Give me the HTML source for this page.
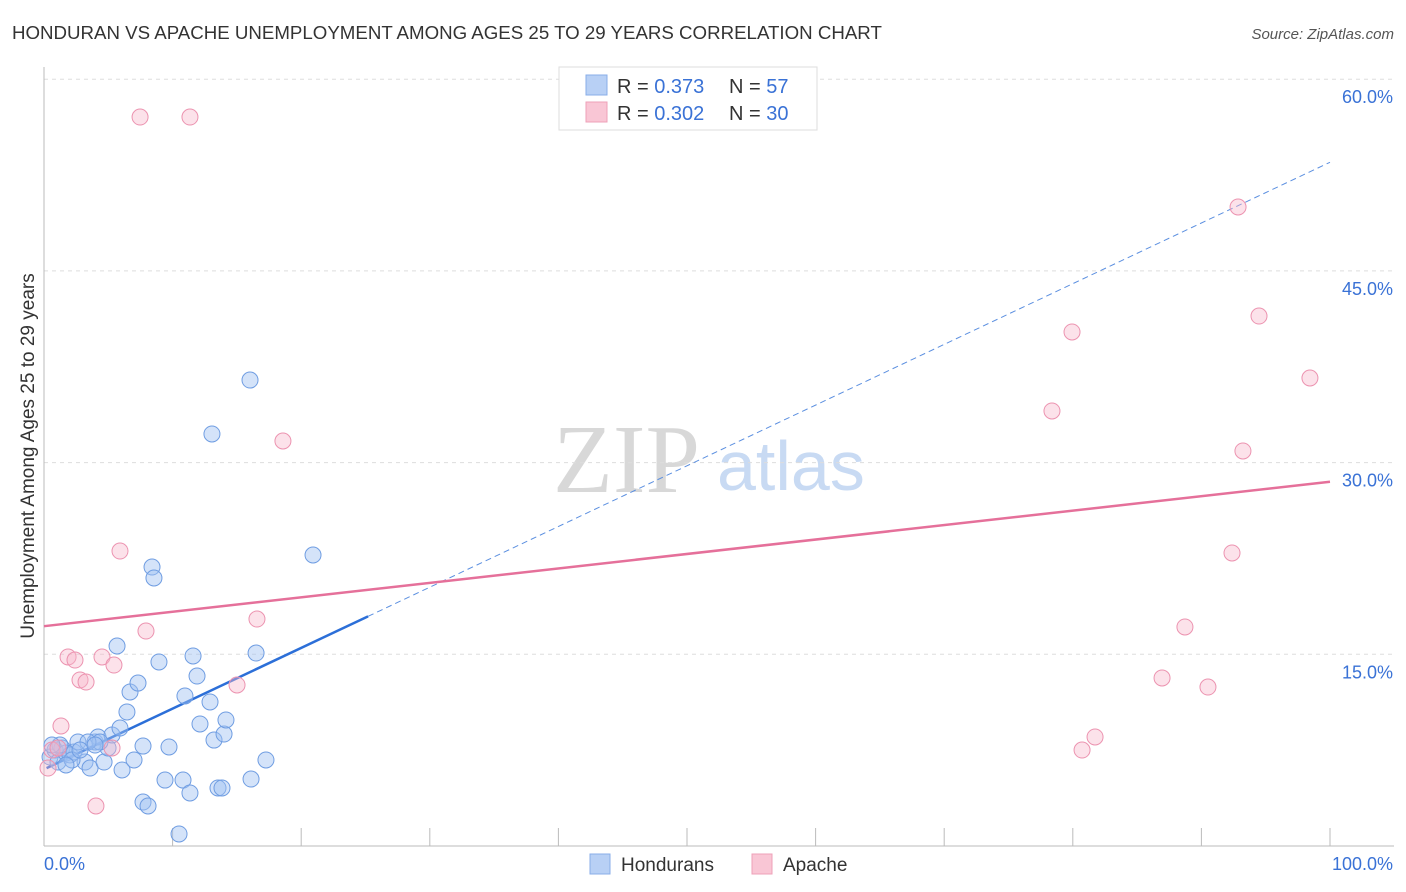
<!DOCTYPE html>
<html><head><meta charset="utf-8"><style>
body{margin:0;background:#fff;font-family:"Liberation Sans",sans-serif;}
svg{display:block}
</style></head><body>
<svg id="chart" width="1406" height="892" xmlns="http://www.w3.org/2000/svg" font-family="Liberation Sans, sans-serif">
<text x="12" y="39" font-size="18.7" fill="#333">HONDURAN VS APACHE UNEMPLOYMENT AMONG AGES 25 TO 29 YEARS CORRELATION CHART</text>
<text x="1394" y="39" font-size="15" fill="#555" text-anchor="end" font-style="italic">Source: ZipAtlas.com</text>
<text x="553" y="492" font-size="98" fill="#d8d8d8" font-family="Liberation Serif, serif">ZIP</text>
<text x="717" y="490" font-size="70" fill="#c8daf3">atlas</text>
<g id="grid"></g>
<g id="axes"></g>
<g id="lines"></g>
<g id="points"></g>
<text transform="translate(34,456) rotate(-90)" text-anchor="middle" font-size="19" fill="#333">Unemployment Among Ages 25 to 29 years</text>
<g>
<rect x="559" y="67" width="258" height="63" fill="#fff" stroke="#ddd"/>
<rect x="586" y="75" width="21" height="20" fill="#b8d0f5" stroke="#88aee8"/>
<rect x="586" y="102" width="21" height="20" fill="#f9c6d5" stroke="#eea0b8"/>
<text x="617" y="93" font-size="20" fill="#333">R = <tspan fill="#3a72d6">0.373</tspan></text>
<text x="729" y="93" font-size="20" fill="#333">N = <tspan fill="#3a72d6">57</tspan></text>
<text x="617" y="120" font-size="20" fill="#333">R = <tspan fill="#3a72d6">0.302</tspan></text>
<text x="729" y="120" font-size="20" fill="#333">N = <tspan fill="#3a72d6">30</tspan></text>
</g>
<g>
<rect x="590" y="854" width="20" height="20" fill="#b8d0f5" stroke="#88aee8"/>
<text x="621" y="871" font-size="19" fill="#333">Hondurans</text>
<rect x="752" y="854" width="20" height="20" fill="#f9c6d5" stroke="#eea0b8"/>
<text x="783" y="871" font-size="19" fill="#333">Apache</text>
</g>
</svg>
<script>
const yTicks=[15,30,45,60];
const yTickLabels=["15.0%","30.0%","45.0%","60.0%"];
const xTickValues=[0,10,20,30,40,50,60,70,80,90,100];
const xEndLabels=["0.0%","100.0%"];
const hondX=[0.47,0.86,1.09,1.40,1.71,2.02,2.33,2.64,3.19,3.58,3.97,4.20,4.67,4.98,5.29,5.68,5.91,6.07,6.45,6.69,7.00,7.31,7.70,7.70,8.09,8.40,8.55,8.94,9.41,9.72,10.50,10.81,10.96,11.35,11.59,11.90,12.13,12.91,13.06,13.22,13.53,13.84,14.00,14.15,16.02,16.10,16.49,17.26,20.92,4.35,3.42,1.24,2.18,1.71,2.80,0.62,3.97];
const hondY=[6.96,7.51,6.57,7.67,7.28,7.12,7.36,8.14,6.57,6.10,8.14,8.53,6.57,7.67,8.69,15.65,9.23,5.95,10.49,12.05,6.73,12.75,7.82,3.44,3.13,21.83,20.97,14.40,5.16,7.75,0.94,5.16,11.74,4.15,14.87,13.30,9.55,11.27,32.24,8.29,4.54,4.54,8.76,9.86,36.46,5.24,15.10,6.73,22.77,8.14,8.14,7.90,6.73,6.34,7.51,7.90,7.90];
const apX=[0.31,0.62,1.09,1.32,1.87,2.41,2.80,3.27,4.04,4.51,5.29,5.44,5.91,7.47,7.93,11.35,15.01,16.56,18.58,78.38,79.94,80.72,81.73,86.94,88.72,90.51,92.38,92.85,93.23,94.48,98.44];
const apY=[6.10,7.51,7.67,9.39,14.79,14.55,12.99,12.83,3.13,14.79,7.67,14.16,23.08,57.04,16.82,57.04,12.60,17.76,31.69,34.04,40.22,7.51,8.53,13.15,17.14,12.44,22.93,50.00,30.91,41.47,36.62];
const blueFit=[6.0,53.5];
const blueSolidEnd=25.2;
const pinkFit=[17.2,28.5];
const X0=44,X1=1330,Y0=846,PPU=12.78;
const sx=v=>X0+(X1-X0)*v/100;
const sy=v=>Y0-v*PPU;
const NS="http://www.w3.org/2000/svg";
function mk(tag,attrs,parent){const e=document.createElementNS(NS,tag);for(const k in attrs)e.setAttribute(k,attrs[k]);parent.appendChild(e);return e;}
const grid=document.getElementById('grid'),axes=document.getElementById('axes'),lines=document.getElementById('lines'),pts=document.getElementById('points');
yTicks.forEach((t,i)=>{
 const l=mk('line',{x1:44,x2:1394,y1:sy(t),y2:sy(t),stroke:'#ddd','stroke-dasharray':'4,4'},grid);
 
 
 const tx=mk('text',{x:1393,y:sy(t)+24,'font-size':18,fill:'#3a72d6','text-anchor':'end'},axes);
 tx.textContent=yTickLabels[i];
 
 
});
const ya=mk('line',{x1:44,x2:44,y1:67,y2:846,stroke:'#bbb'},axes);


const xa=mk('line',{x1:44,x2:1394,y1:846,y2:846,stroke:'#bbb'},axes);


xTickValues.forEach(v=>{
 const t=mk('line',{x1:sx(v),x2:sx(v),y1:828,y2:846,stroke:'#bbb'},axes);
 
 
});
const xl0=mk('text',{x:44,y:870,'font-size':18,fill:'#3a72d6'},axes);xl0.textContent=xEndLabels[0];


const xl1=mk('text',{x:1393,y:870,'font-size':18,fill:'#3a72d6','text-anchor':'end'},axes);xl1.textContent=xEndLabels[1];


const bf=v=>blueFit[0]+(blueFit[1]-blueFit[0])*v/100;
const pf=v=>pinkFit[0]+(pinkFit[1]-pinkFit[0])*v/100;
const bd=mk('line',{x1:sx(blueSolidEnd),y1:sy(bf(blueSolidEnd)),x2:sx(100),y2:sy(bf(100)),stroke:'#5b8fe0','stroke-width':1,'stroke-dasharray':'6,4'},lines);


const bs=mk('line',{x1:sx(0.2),y1:sy(bf(0.2)),x2:sx(blueSolidEnd),y2:sy(bf(blueSolidEnd)),stroke:'#2c6fd8','stroke-width':2.5},lines);


const pl=mk('line',{x1:sx(0),y1:sy(pf(0)),x2:sx(100),y2:sy(pf(100)),stroke:'#e5709a','stroke-width':2.5},lines);


hondX.forEach((x,i)=>{
 const c=mk('circle',{cx:sx(x),cy:sy(hondY[i]),r:8,fill:'rgba(160,192,242,0.45)',stroke:'#6f9de2','stroke-width':1},pts);
 
 
});
apX.forEach((x,i)=>{
 const c=mk('circle',{cx:sx(x),cy:sy(apY[i]),r:8,fill:'rgba(248,182,202,0.4)',stroke:'#ec93b0','stroke-width':1},pts);
 
 
});
</script>
</body></html>
